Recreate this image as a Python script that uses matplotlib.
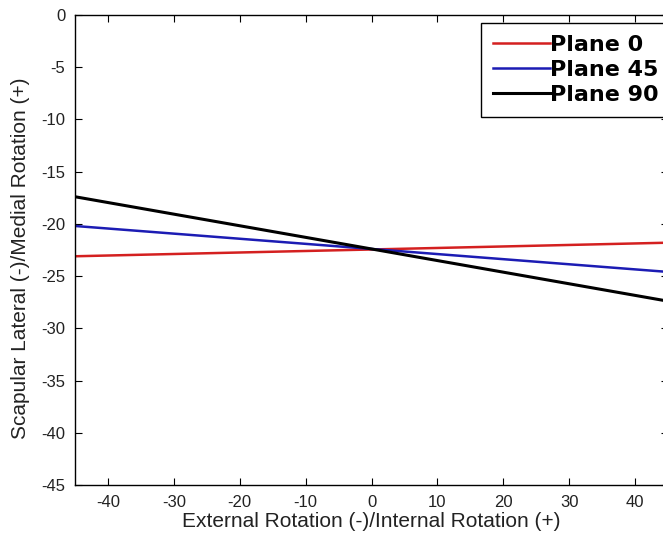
import matplotlib.pyplot as plt

plt.rcParams['font.family'] = ['Liberation Sans', 'DejaVu Sans']
plt.rcParams['axes.unicode_minus'] = False

# rotation range and line end values for each plane
rotation = [-45, 45]
plane_0 = [-23.1, -21.8]
plane_45 = [-20.2, -24.6]
plane_90 = [-17.4, -27.4]

labels = ['Plane 0', 'Plane 45', 'Plane 90']
colors = ['#d42020', '#1c1cb4', 'black']

W, H = 663, 540
fig = plt.figure(figsize=(W / 100, H / 100), dpi=100)
# axes extends a bit past the right edge of the figure
ax = fig.add_axes([75 / W, 1 - 485 / H, (668 - 75) / W, (485 - 15) / H])

for ys, lab, c, lw in zip([plane_0, plane_45, plane_90], labels, colors, [1.8, 1.8, 2.2]):
    ax.plot(rotation, ys, color=c, lw=lw, label=lab)

ax.set_xlim(-45, 45)
ax.set_ylim(-45, 0)
ax.set_xticks(range(-40, 41, 10))
ax.set_yticks(range(-45, 1, 5))
ax.tick_params(direction='in', length=5, top=True, right=True, labelsize=12, pad=7,
               labelcolor='#222222')
for s in ax.spines.values():
    s.set_linewidth(1.0)

ax.set_xlabel('External Rotation (-)/Internal Rotation (+)', fontsize=15, color='#222222')
ax.set_ylabel('Scapular Lateral (-)/Medial Rotation (+)', fontsize=15, color='#222222')
ax.xaxis.set_label_coords(0.5, -0.057)
ax.yaxis.set_label_coords(-0.076, 0.483)

leg = ax.legend(loc='upper left', bbox_to_anchor=(481 / W, 1 - 23 / H),
                bbox_transform=fig.transFigure, borderaxespad=0,
                prop={'family': 'DejaVu Sans', 'weight': 'bold', 'size': 16},
                handlelength=2.55, handletextpad=0.0, fancybox=False, framealpha=1,
                edgecolor='black', labelspacing=0.22, borderpad=0.55)
leg.get_frame().set_linewidth(1.0)

fig.savefig('out.png', dpi=100)
